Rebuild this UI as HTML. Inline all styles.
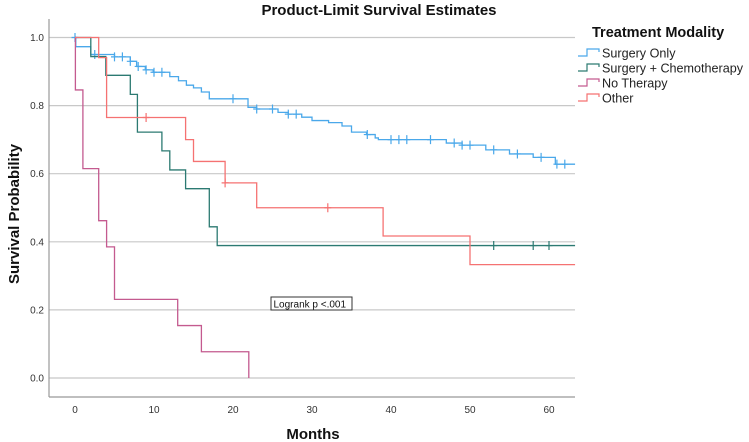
<!DOCTYPE html>
<html><head><meta charset="utf-8"><style>
body{margin:0;background:#fff;}
svg{display:block;font-family:"Liberation Sans",sans-serif;}
</style></head><body>
<svg id="chart" width="749" height="442">
<text x="379" y="15" text-anchor="middle" font-weight="bold" font-size="15" fill="#111">Product-Limit Survival Estimates</text>
<g id="grid"></g>
<g id="yticks"></g>
<g id="xticks"></g>
<line x1="49" y1="19" x2="49" y2="397" stroke="#999" stroke-width="1.2"/>
<line x1="49" y1="397" x2="575" y2="397" stroke="#999" stroke-width="1.2"/>
<g id="series"></g>
<text transform="translate(19,214) rotate(-90)" text-anchor="middle" font-weight="bold" font-size="15" fill="#111">Survival Probability</text>
<text x="313" y="439" text-anchor="middle" font-weight="bold" font-size="15" fill="#111">Months</text>
<g>
<rect x="271" y="297" width="81" height="13" fill="#fff" stroke="#333" stroke-width="1"/>
<text x="273.5" y="307.5" font-size="10" fill="#111">Logrank p &lt;.001</text>
</g>
<g>
<text x="592" y="37" font-weight="bold" font-size="14.5" fill="#111">Treatment Modality</text>
<g id="legend-items"></g>
</g>
</svg>
<script>
const yTicks=[0.0,0.2,0.4,0.6,0.8,1.0];
const yTickLabels=["0.0","0.2","0.4","0.6","0.8","1.0"];
const xTicks=[0,10,20,30,40,50,60];
const xTickLabels=["0","10","20","30","40","50","60"];
const seriesNames=["Surgery Only","Surgery + Chemotherapy","No Therapy","Other"];
const surgeryTimes=[0,0.1,2,5,7,7.8,8.9,9.9,12,13.1,14.1,15,16,17,21.9,23,25.7,27,28.7,30,32.1,33.8,35,36.9,38,38.4,47,49,52,55,58,60.8];
const surgerySurv=[1,0.973,0.95,0.943,0.93,0.915,0.905,0.898,0.885,0.873,0.86,0.852,0.84,0.82,0.795,0.79,0.78,0.775,0.766,0.756,0.75,0.74,0.722,0.715,0.705,0.70,0.69,0.684,0.67,0.658,0.648,0.628];
const surgeryCensor=[0,2.5,5,6,7,8,9,10,11,20,23,25,27,28,37,40,41,42,45,48,49,50,53,56,59,61,62];
const chemoTimes=[0,2,3.9,7,7.9,11,12,14,17,18];
const chemoSurv=[1,0.944,0.889,0.833,0.722,0.667,0.611,0.556,0.444,0.389];
const chemoCensor=[53,58,60];
const noTherTimes=[0,0.05,1,3,4,5,13,16,22];
const noTherSurv=[1,0.846,0.615,0.462,0.385,0.231,0.154,0.077,0];
const noTherCensor=[];
const otherTimes=[0,3,4,14,15,19,23,39,50];
const otherSurv=[1,0.941,0.765,0.70,0.636,0.573,0.50,0.417,0.333];
const otherCensor=[9,19,32];
const endTimes=[63.3,63.3,22,63.3];
const colors=["#4aa8ea","#2c7a72","#c45a8f","#f57272"];
const NS="http://www.w3.org/2000/svg";
const xS=t=>75+t*7.9;
const yS=s=>378-s*340.5;
function mk(tag,attrs,parent){const e=document.createElementNS(NS,tag);for(const k in attrs)e.setAttribute(k,attrs[k]);parent.appendChild(e);return e;}
const grid=document.getElementById('grid'),yt=document.getElementById('yticks'),xt=document.getElementById('xticks');
yTicks.forEach((v,i)=>{
 const l=mk('line',{x1:49,x2:575,y1:yS(v),y2:yS(v),stroke:'#c8c8c8','stroke-width':1.2},grid);
 
 
 const t=mk('text',{x:44,y:yS(v)+3.5,'text-anchor':'end','font-size':10,fill:'#333'},yt);
 t.textContent=yTickLabels[i];
 
 
});
xTicks.forEach((v,i)=>{
 const t=mk('text',{x:xS(v),y:413,'text-anchor':'middle','font-size':10,fill:'#333'},xt);
 t.textContent=xTickLabels[i];
 
 
});
function stepAt(times,surv,t){let s=surv[0];for(let i=0;i<times.length;i++){if(times[i]<=t)s=surv[i];}return s;}
const allT=[surgeryTimes,chemoTimes,noTherTimes,otherTimes],allS=[surgerySurv,chemoSurv,noTherSurv,otherSurv],allC=[surgeryCensor,chemoCensor,noTherCensor,otherCensor];
const keys=["surgery-only","surgery-chemo","no-therapy","other"];
const sg=document.getElementById('series');
allT.forEach((times,k)=>{
 const surv=allS[k];
 let d='M'+xS(times[0])+','+yS(surv[0]);
 for(let i=1;i<times.length;i++){d+=' H'+xS(times[i])+' V'+yS(surv[i]);}
 d+=' H'+xS(endTimes[k]);
 const p=mk('path',{d:d,fill:'none',stroke:colors[k],'stroke-width':1.3},sg);
 
 
 allC[k].forEach(c=>{
  const y=yS(stepAt(times,surv,c));
  const m=mk('path',{d:'M'+(xS(c)-3.5)+','+y+' H'+(xS(c)+3.5)+' M'+xS(c)+','+(y-4.5)+' V'+(y+4.5),stroke:colors[k],'stroke-width':1.2},sg);
  
  
 });
});
const lg=document.getElementById('legend-items');
seriesNames.forEach((n,i)=>{
 const y=53+i*15;
 const g=mk('g',{},lg);
 
 
 mk('path',{d:'M578,'+(y+3)+' H587 V'+(y-4)+' H599 V'+(y-1),fill:'none',stroke:colors[i],'stroke-width':1.2},g);
 const t=mk('text',{x:602,y:y+4.5,'font-size':12.6,fill:'#222'},g);
 t.textContent=n;
});
</script>
</body></html>
